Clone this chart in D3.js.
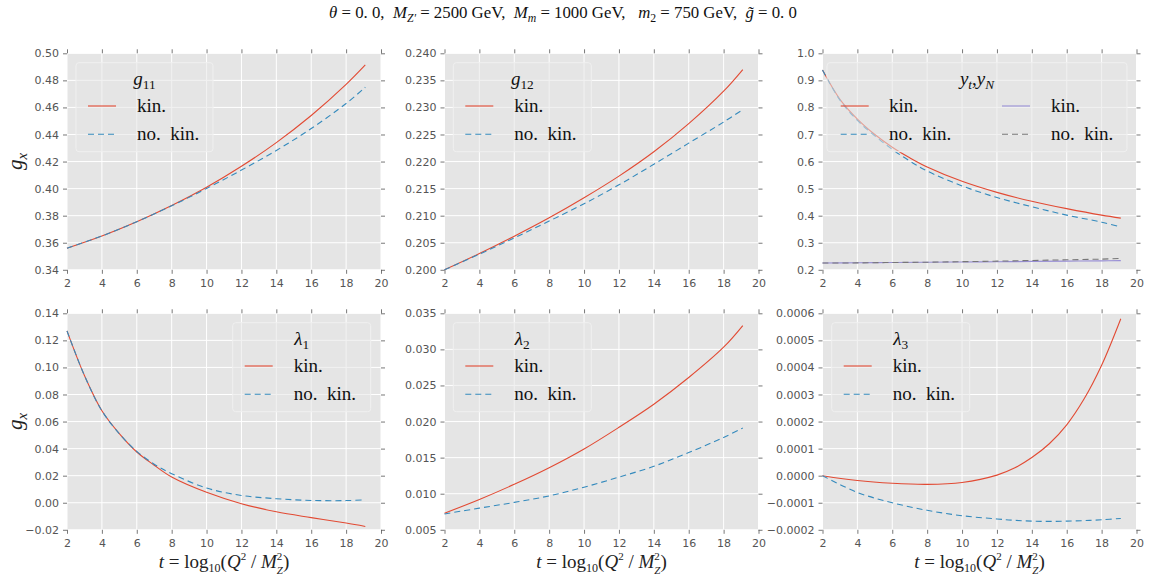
<!DOCTYPE html>
<html><head><meta charset="utf-8">
<script src="https://cdn.jsdelivr.net/npm/d3@7"></script>
<style>body{margin:0;background:#fff;} svg{display:block;}</style>
</head><body>
<svg id="chart" width="1149" height="580"></svg>
<script>
// ---------- data ----------
const T_COARSE = [2,4,6,8,10,12,14,16,18,19.1];
const T_FINE   = [2,3,4,5,6,7,8,10,12,14,16,18,19.1];
const T_L3     = [2,4,6,8,10,12,13,14,15,16,17,18,19.1];
const X_TICKS = [2,4,6,8,10,12,14,16,18,20];

const g11_kin   = [0.356,0.365,0.3755,0.3875,0.401,0.4165,0.434,0.454,0.477,0.4914];
const g11_nokin = [0.356,0.365,0.3755,0.3873,0.4001,0.4137,0.4282,0.4444,0.4629,0.4749];
const g11_ticks = [0.34,0.36,0.38,0.40,0.42,0.44,0.46,0.48,0.50];

const g12_kin   = [0.2000,0.2030,0.2062,0.2096,0.2133,0.2173,0.2218,0.2270,0.2330,0.2370];
const g12_nokin = [0.2000,0.2029,0.2059,0.2090,0.2122,0.2157,0.2195,0.2234,0.2273,0.2296];
const g12_ticks = [0.200,0.205,0.210,0.215,0.220,0.225,0.230,0.235,0.240];

const yt_kin    = [0.938,0.83,0.757,0.70,0.653,0.614,0.58,0.527,0.486,0.453,0.426,0.402,0.391];
const yt_nokin  = [0.938,0.827,0.752,0.695,0.645,0.602,0.565,0.51,0.467,0.433,0.402,0.376,0.358];
const yN_kin    = [0.225,0.226,0.227,0.228,0.229,0.2295,0.231,0.232,0.233,0.234];
const yN_nokin  = [0.225,0.2255,0.227,0.228,0.230,0.232,0.2345,0.237,0.2395,0.242];
const y_ticks   = [0.2,0.3,0.4,0.5,0.6,0.7,0.8,0.9,1.0];

const l1_kin    = [0.127,0.094,0.068,0.0511,0.0375,0.0277,0.019,0.0077,-0.0007,-0.0067,-0.011,-0.015,-0.0175];
const l1_nokin  = [0.127,0.094,0.068,0.051,0.038,0.0285,0.0215,0.0109,0.0054,0.003,0.0017,0.0016,0.0021];
const l1_ticks  = [-0.02,0.00,0.02,0.04,0.06,0.08,0.10,0.12,0.14];

const l2_kin    = [0.0073,0.0092,0.0113,0.0136,0.0162,0.0192,0.0224,0.0261,0.0303,0.0333];
const l2_nokin  = [0.0072,0.0080,0.0088,0.0097,0.0109,0.0123,0.0138,0.0157,0.0178,0.0191];
const l2_ticks  = [0.005,0.010,0.015,0.020,0.025,0.030,0.035];

const l3_kin    = [0.0,-0.000018,-0.000028,-0.000032,-0.000025,0.000002,0.000028,0.000067,0.000118,0.000188,0.000284,0.000408,0.00058];
const l3_nokin  = [0.0,-0.000062,-0.0001,-0.000128,-0.000148,-0.00016,-0.000165,-0.000168,-0.000169,-0.000168,-0.000166,-0.000163,-0.000158];
const l3_ticks  = [-0.0002,-0.0001,0.0,0.0001,0.0002,0.0003,0.0004,0.0005,0.0006];

// ---------- style ----------
const RED="#E24A33", BLUE="#348ABD", PURPLE="#988ED5", GREY="#777777";
const SERIF = "'Liberation Serif', 'Times New Roman', serif";
const SANS = "'DejaVu Sans', sans-serif";

const svg = d3.select("#chart");

function mathText(sel, segs, size){
  segs.forEach(s=>{
    const [txt, st, extra] = s;
    const t = sel.append("tspan").text(txt);
    if (st.includes("i")) t.attr("font-style","italic");
    if (st.includes("sub")) t.attr("font-size", size*0.7).attr("baseline-shift", -size*0.22);
    if (st.includes("sup")) t.attr("font-size", size*0.7).attr("baseline-shift", size*0.38);
    if (extra) t.attr("dx", extra);
  });
}

const panels = [
  {x:67, y:53.3, dom:[0.34,0.50], ticks:g11_ticks, fmt:d3.format(".2f"), T:T_COARSE,
   series:[[g11_kin,RED,false],[g11_nokin,BLUE,true]],
   leg:{x:76, w:137, title:[["g","i"],["11","sub"]]}},
  {x:444.5, y:53.3, dom:[0.200,0.240], ticks:g12_ticks, fmt:d3.format(".3f"), T:T_COARSE,
   series:[[g12_kin,RED,false],[g12_nokin,BLUE,true]],
   leg:{x:453.3, w:138, title:[["g","i"],["12","sub"]]}},
  {x:822.5, y:53.3, dom:[0.2,1.0], ticks:y_ticks, fmt:d3.format(".1f"), T:T_FINE,
   series:[[yt_kin,RED,false],[yt_nokin,BLUE,true],[yN_kin,PURPLE,false,T_COARSE],[yN_nokin,GREY,true,T_COARSE]],
   leg:{x:827, w:300, two:true, title:[["y","i"],["t","isub"],[",",""],["y","i"],["N","isub"]]}},
  {x:67, y:313.3, dom:[-0.02,0.14], ticks:l1_ticks, fmt:d3.format(".2f"), T:T_FINE,
   series:[[l1_kin,RED,false],[l1_nokin,BLUE,true]],
   leg:{x:232.7, w:138, title:[["λ","i"],["1","sub"]]}},
  {x:444.5, y:313.3, dom:[0.005,0.035], ticks:l2_ticks, fmt:d3.format(".3f"), T:T_COARSE,
   series:[[l2_kin,RED,false],[l2_nokin,BLUE,true]],
   leg:{x:453.3, w:138, title:[["λ","i"],["2","sub"]]}},
  {x:822.5, y:313.3, dom:[-0.0002,0.0006], ticks:l3_ticks, fmt:d3.format(".4f"), T:T_L3,
   series:[[l3_kin,RED,false],[l3_nokin,BLUE,true]],
   leg:{x:831.7, w:138, title:[["λ","i"],["3","sub"]]}},
];
const PW=314, PH=216.5;

panels.forEach((p,pi)=>{
  const g = svg.append("g").attr("transform",`translate(${p.x},${p.y})`);
  const x = d3.scaleLinear().domain([2,20]).range([0,PW]);
  const y = d3.scaleLinear().domain(p.dom).range([PH,0]);
  g.append("rect").attr("width",PW).attr("height",PH).attr("fill","#E5E5E5");
  g.selectAll(".gx").data(X_TICKS).join("line").attr("x1",d=>x(d)).attr("x2",d=>x(d))
   .attr("y1",0).attr("y2",PH).attr("stroke","#fff").attr("stroke-width",1);
  g.selectAll(".gy").data(p.ticks).join("line").attr("y1",d=>y(d)).attr("y2",d=>y(d))
   .attr("x1",0).attr("x2",PW).attr("stroke","#fff").attr("stroke-width",1);
  const styleAxis = (a)=>{ a.select(".domain").remove();
    a.selectAll(".tick line").attr("stroke","#555").attr("stroke-width",0.8);
    a.selectAll(".tick text").attr("fill","#555").attr("font-family",SANS).attr("font-size",11); };
  g.append("g").attr("transform",`translate(0,${PH})`)
   .call(d3.axisBottom(x).tickValues(X_TICKS).tickFormat(d3.format("d")).tickSize(4).tickPadding(5)).call(styleAxis);
  g.append("g").call(d3.axisTop(x).tickValues(X_TICKS).tickFormat("").tickSize(4)).call(styleAxis);
  g.append("g").call(d3.axisLeft(y).tickValues(p.ticks).tickFormat(p.fmt).tickSize(4).tickPadding(4)).call(styleAxis);
  g.append("g").attr("transform",`translate(${PW},0)`)
   .call(d3.axisRight(y).tickValues(p.ticks).tickFormat("").tickSize(4)).call(styleAxis);
  p.series.forEach(([vals,col,dash,tt])=>{
    const ts = tt || p.T;
    const line = d3.line().x((d,i)=>x(ts[i])).y(d=>y(d)).curve(d3.curveCatmullRom.alpha(0.5));
    g.append("path").attr("d",line(vals)).attr("fill","none").attr("stroke",col)
     .attr("stroke-width",1.1).attr("stroke-dasharray",dash?"6,4":null);
  });
  // legend (semi-transparent, like matplotlib framealpha)
  const L = p.leg;
  const lg = svg.append("g").attr("transform",`translate(${L.x},${p.y+9.4})`);
  lg.append("rect").attr("width",L.w).attr("height",89).attr("rx",3)
    .attr("fill","#E5E5E5").attr("fill-opacity",0.55).attr("stroke","#F0F0F0").attr("stroke-width",1);
  const tt = lg.append("text").attr("x",L.w/2).attr("y",22).attr("text-anchor","middle")
    .attr("font-family",SERIF).attr("font-size",19).attr("fill","#111");
  mathText(tt, L.title, 19);
  const entries = L.two
    ? [[13.7,62,RED,false,"kin.",43.3],[13.7,62,BLUE,true,"no.  kin.",71.6],[175,224,PURPLE,false,"kin.",43.3],[175,224,GREY,true,"no.  kin.",71.6]]
    : [[12,61,RED,false,"kin.",43.3],[12,61,BLUE,true,"no.  kin.",71.6]];
  entries.forEach(([lx,tx,col,dash,lab,yy])=>{
    lg.append("line").attr("x1",lx).attr("x2",lx+28).attr("y1",yy).attr("y2",yy)
      .attr("stroke",col).attr("stroke-width",1.1).attr("stroke-dasharray",dash?"6,4":null);
    lg.append("text").attr("x",tx).attr("y",yy+6).attr("font-family",SERIF).attr("font-size",19)
      .attr("fill","#111").style("white-space","pre").text(lab);
  });
  if (pi===0 || pi===3){
    const yl = svg.append("text").attr("transform",`translate(${p.x-45},${p.y+PH/2}) rotate(-90)`)
      .attr("text-anchor","middle").attr("font-family",SERIF).attr("font-size",21).attr("fill","#222");
    mathText(yl, [["g","i"],["x","isub"]], 21);
  }
  if (pi>=3){
    const xl = svg.append("text").attr("x",p.x+PW/2).attr("y",p.y+PH+38)
      .attr("text-anchor","middle").attr("font-family",SERIF).attr("font-size",19).attr("fill","#222")
      .style("white-space","pre");
    xl.append("tspan").attr("font-style","italic").text("t");
    xl.append("tspan").text(" = log");
    xl.append("tspan").attr("font-size",12).attr("baseline-shift",-4).text("10");
    xl.append("tspan").text("(");
    xl.append("tspan").attr("font-style","italic").text("Q");
    xl.append("tspan").attr("font-size",11).attr("baseline-shift",8).text("2");
    xl.append("tspan").text(" / ");
    xl.append("tspan").attr("font-style","italic").text("M");
    xl.append("tspan").attr("font-size",11).attr("baseline-shift",8).text("2");
    xl.append("tspan").attr("font-size",11).attr("font-style","italic").attr("dx",-5.5).attr("baseline-shift",-5.5).text("Z");
    xl.append("tspan").text(")");
  }
});

// title
const title = svg.append("text").attr("x",563).attr("y",18).attr("text-anchor","middle")
  .attr("font-family",SERIF).attr("font-size",16.8).attr("fill","#111").style("white-space","pre");
mathText(title, [["θ","i"],[" = 0. 0,  ",""],["M","i"],["Z'","isub"],[" = 2500 GeV,  ",""],["M","i"],["m","isub"],[" = 1000 GeV,   ",""],["m","i"],["2","sub"],[" = 750 GeV,  ",""],["g̃","i"],[" = 0. 0",""]], 16.8);
</script>
</body></html>
